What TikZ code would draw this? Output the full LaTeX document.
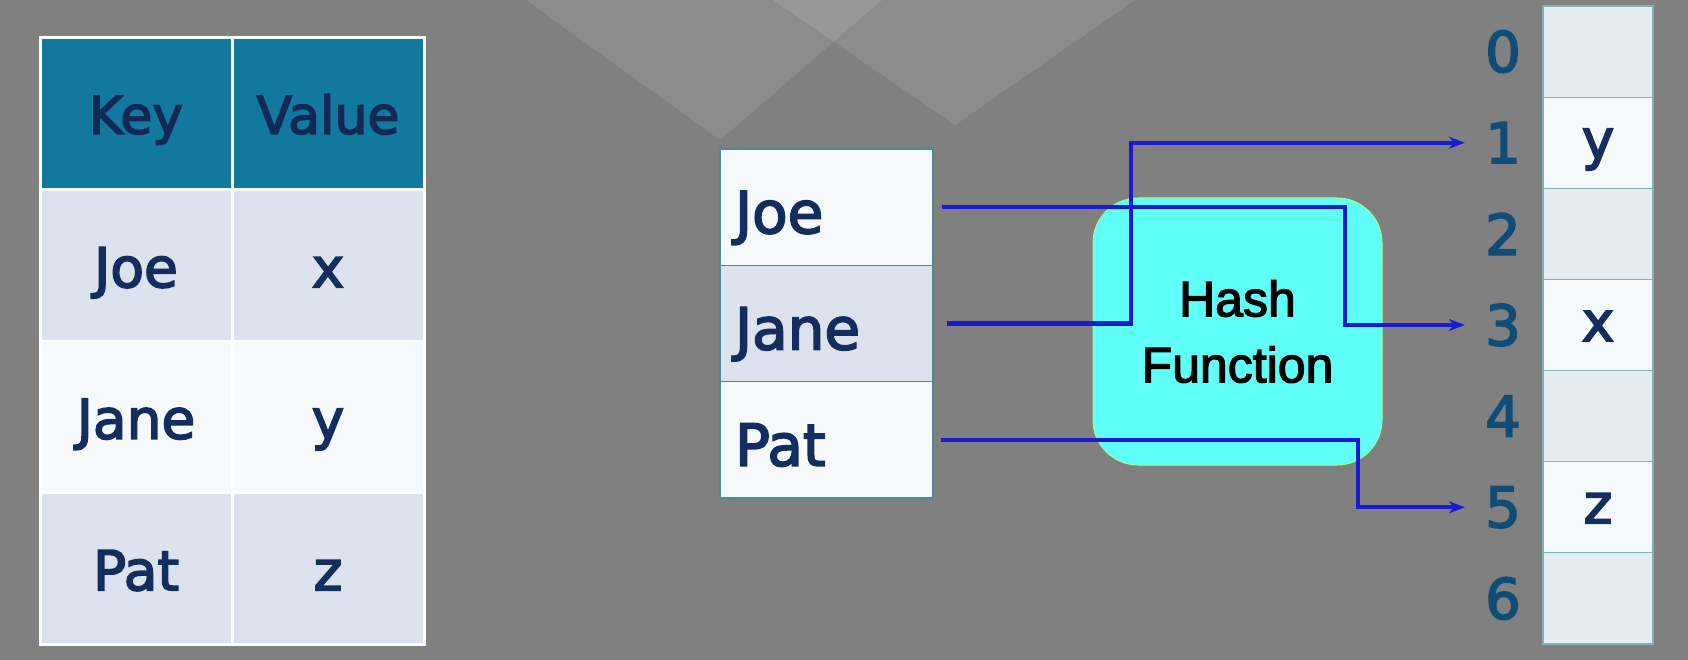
\documentclass[tikz,border=0pt]{standalone}
\usepackage{fontspec}
\setmainfont{DejaVu Sans}[FakeBold=3]
\newfontfamily\hashfont{Liberation Sans}[FakeBold=2.5]
\usetikzlibrary{arrows.meta,positioning}
\definecolor{bgGray}{HTML}{808080}
\definecolor{headTeal}{HTML}{12789E}
\definecolor{navy}{HTML}{132E5E}
\definecolor{rowBlue}{HTML}{DCE2EE}
\definecolor{rowWhite}{HTML}{F7FAFD}
\definecolor{slotEmpty}{HTML}{E5EDF2}
\definecolor{slotEdge}{HTML}{7FB3B3}
\definecolor{listEdge}{HTML}{4A8C96}
\definecolor{hashCyan}{HTML}{5FFFF8}
\definecolor{linkBlue}{HTML}{1A1AD0}
\begin{document}
\begin{tikzpicture}
        [x=1pt, y=-1pt,
         cell/.style={draw=white, line width=3pt, minimum width=192pt,
            minimum height=151.5pt, inner sep=0pt, text=navy,
            text height=44pt, text depth=0pt,
            font=\fontsize{55}{60}\selectfont},
         head/.style={cell, fill=headTeal, text=navy!90!black,
            text height=40pt, font=\fontsize{52}{56}\selectfont},
         entry/.style={draw=listEdge, line width=1.5pt, text width=183pt,
            align=left, inner xsep=15pt, inner ysep=0pt,
            text height=52pt, text depth=0pt,
            minimum height=116.3pt, text=navy,
            font=\fontsize{58}{62}\selectfont},
         slot/.style={draw=slotEdge, line width=1.2pt, minimum width=110pt,
            minimum height=91.14pt, inner sep=0pt, text=navy,
            text height=32pt, text depth=0pt,
            font=\fontsize{55}{60}\selectfont},
         idx/.style={minimum width=76pt, inner sep=0pt, text=navy!85!cyan,
            font=\fontsize{56}{60}\selectfont},
         link/.style={draw=linkBlue, line width=4.2pt,
            -{Stealth[length=16pt, width=12pt]}}]
        \useasboundingbox (0,0) rectangle (1688,660);
        \fill[bgGray] (0,0) rectangle (1688,660);
        \fill[white, opacity=0.1] (526,0) -- (882,0) -- (720,140) -- cycle;
        \fill[white, opacity=0.1] (773,0) -- (1135,0) -- (955,125) -- cycle;
        % key / value table
        \node[head] (keyHead) at (136,113.75) {Key};
        \node[head] (valHead) at (328,113.75) {Value};
        \node[cell, fill=rowBlue] (keyJoe) at (136,265.25) {Joe};
        \node[cell, fill=rowBlue] (valJoe) at (328,265.25) {x};
        \node[cell, fill=rowWhite] (keyJane) at (136,416.75) {Jane};
        \node[cell, fill=rowWhite] (valJane) at (328,416.75) {y};
        \node[cell, fill=rowBlue] (keyPat) at (136,568.25) {Pat};
        \node[cell, fill=rowBlue] (valPat) at (328,568.25) {z};
        % keys
        \node[entry, fill=rowWhite] (joe) at (826.5,207.2) {Joe};
        \node[entry, fill=rowBlue] (jane) at (826.5,323.5) {Jane};
        \node[entry, fill=rowWhite] (pat) at (826.5,439.8) {Pat};
        % hash function
        \node[fill=hashCyan, draw=hashCyan!60!yellow, line width=1pt,
            rounded corners=45pt, minimum width=289pt, minimum height=267pt,
            align=center, font=\hashfont\fontsize{50}{66}\selectfont]
            (hash) at (1237.5,331.5) {Hash\\Function};
        % buckets
        \foreach \i/\v/\c in {0//slotEmpty, 1/y/rowWhite, 2//slotEmpty,
                3/x/rowWhite, 4//slotEmpty, 5/z/rowWhite, 6//slotEmpty}
        {
            \node[slot, fill=\c] (slot\i) at (1598,{51.6+91.14*\i}) {\v};
            \node[idx] (idx\i) at (1503,{51.6+91.14*\i}) {\i};
        }
        \coordinate (joeBend) at (1345,0);
        \coordinate (janeBend) at (1131,0);
        \coordinate (patBend) at (1358,0);
        \draw[link] ([xshift=8pt]joe.east) -- (joe.east -| joeBend) |- (idx3.west);
        \draw[link] ([xshift=13pt]jane.east) -- (jane.east -| janeBend) |- (idx1.west);
        \draw[link] ([xshift=7pt]pat.east) -- (pat.east -| patBend) |- (idx5.west);
\end{tikzpicture}
\end{document}
